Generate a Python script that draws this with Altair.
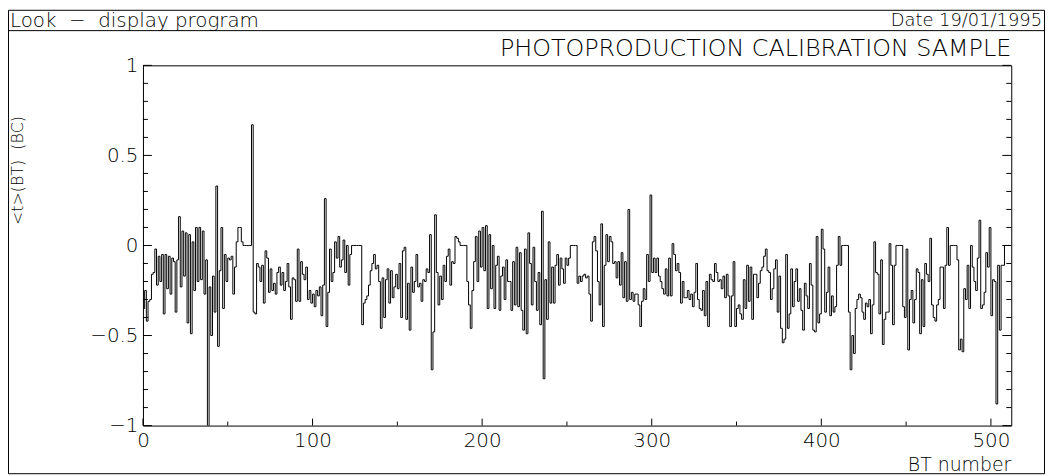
import altair as alt
import pandas as pd

# <t>(BT) per BT bin, bins 0..511
seg_000 = [-0.35, -0.25, -0.42, -0.31, -0.30, -0.16, -0.15, -0.02, -0.22, -0.06,
           -0.20, -0.05, -0.38, -0.05, -0.24, -0.06, -0.27, -0.07, -0.09, -0.37,
           -0.08, 0.16, -0.23, 0.08, -0.17, 0.07, -0.43, 0.06, -0.49, 0.02,
           -0.25, 0.10, -0.20, 0.10, -0.19, 0.08, -0.27, -0.08, -1.00, -0.23,
           -0.50, -0.17, -0.37, 0.33, -0.56]
seg_045 = [-0.14, 0.10, -0.35, -0.05, -0.20, -0.07, -0.08, -0.06, -0.27, -0.12,
           0.02, 0.10, 0.10, 0.02, 0.00, 0.00, 0.00, 0.00, 0.00, 0.67,
           -0.37, -0.38, -0.10, -0.12, -0.20, -0.11, -0.32, -0.03, -0.07, -0.26,
           -0.13, -0.25, -0.21, -0.27, -0.15, -0.12, -0.22]
seg_082 = [-0.15, -0.25, -0.20, -0.10, -0.23, -0.41, -0.18, -0.19, -0.31, -0.02,
           -0.31, -0.09, -0.16, -0.19, -0.12, -0.30, -0.25, -0.32, -0.27, -0.34,
           -0.25, -0.28, -0.23, -0.39, -0.22, 0.26, -0.45, -0.26, -0.02, -0.20,
           -0.15, 0.02, -0.07, 0.05, -0.12, -0.08, 0.03, -0.15, 0.00, -0.22,
           -0.05, 0.00, 0.00, 0.00, 0.00, 0.00, 0.00]
seg_129 = [-0.44, -0.32, -0.30, -0.28, -0.22, -0.14, -0.10, -0.05, -0.13, -0.11,
           -0.20, -0.46, -0.18, -0.40, -0.19, -0.13, -0.32, -0.14, -0.29, -0.23,
           -0.16, -0.24, -0.10, -0.40, -0.03, -0.01, -0.41, -0.21, -0.47, -0.12,
           -0.26, -0.20, -0.05, -0.23, -0.21, -0.31, -0.19, -0.20, -0.13, -0.15,
           0.06, -0.69, -0.48]
seg_172 = [0.17, -0.15, -0.33, -0.17, -0.30, -0.11, -0.20, -0.06, -0.02, -0.22,
           -0.09, -0.10, 0.05, 0.04, 0.02, 0.00, 0.00, 0.00, 0.00, -0.20,
           -0.33, -0.46, -0.25, -0.09, 0.05, -0.20, 0.08, -0.12, 0.10, -0.14,
           0.11, -0.35, 0.06, -0.24, 0.00, -0.35, -0.11, -0.06, -0.36, -0.17,
           -0.12, -0.30, -0.08, -0.20]
seg_216 = [-0.20, -0.36, -0.09, -0.33, -0.01, -0.34, -0.04, -0.36, -0.47, -0.02,
           -0.49, 0.07, -0.10, -0.33, -0.01, -0.20, -0.36, -0.15, -0.44, 0.19,
           -0.74, -0.19, -0.41, 0.02, -0.32, -0.12, -0.32, -0.11, -0.05, -0.22,
           -0.07, -0.13, -0.21, -0.07, -0.11, -0.07, 0.00, 0.00, 0.00, 0.00,
           -0.21, -0.17, -0.20]
seg_259 = [-0.17, -0.16, -0.18, -0.17, -0.27, -0.42, 0.02, 0.05, -0.03, -0.20,
           -0.33, 0.12, -0.45, -0.11, 0.06, -0.09, 0.05, 0.02, -0.10, -0.09,
           -0.18, -0.09, -0.22, -0.04, -0.29, -0.09, -0.31, 0.20, -0.30, -0.26,
           -0.31, -0.27, -0.27, -0.33, -0.45, -0.31, -0.24, -0.30, -0.05, -0.20,
           0.28, -0.15]
seg_301 = [-0.07, -0.15, -0.07, -0.17, -0.20, -0.24, -0.27, -0.13, -0.28, -0.07,
           -0.28, 0.01, -0.05, -0.14, -0.10, -0.15, -0.32, -0.20, -0.29, -0.29,
           -0.25, -0.30, -0.27, -0.34, -0.26, -0.10, -0.30, -0.35, -0.36, -0.25,
           -0.39, -0.20, -0.45, -0.16, -0.19, -0.20, -0.10, -0.15, -0.20, -0.19,
           -0.24, -0.17, -0.29]
seg_344 = [-0.16, -0.28, -0.45, -0.28, -0.09, -0.45, -0.35, -0.33, -0.38, -0.41,
           -0.19, -0.35, -0.11, -0.31, -0.12, -0.41, -0.16, -0.16, -0.29, -0.21,
           -0.14, -0.12, -0.06, -0.02, -0.14, -0.15, -0.30, -0.24, -0.13, -0.08,
           -0.37, -0.17, -0.46, -0.54, -0.52, -0.05, -0.46, -0.38, -0.13, -0.34]
seg_384 = [-0.20, -0.13, -0.31, -0.24, -0.36, -0.47, -0.21, -0.28, -0.35, -0.10,
           -0.22, -0.47, -0.48, 0.05, -0.43, -0.38, 0.09, -0.02, -0.37, -0.26,
           -0.12, -0.39, -0.28, -0.37, -0.34, -0.11, 0.05, -0.11, 0.00, 0.00,
           0.00, 0.00, -0.37, -0.69, -0.50, -0.60, -0.35, -0.30, -0.27, -0.29,
           -0.37, -0.41, -0.32, -0.34, -0.30]
seg_429 = [-0.49, -0.33, 0.02, -0.15, -0.16, -0.38, -0.08, -0.55, -0.41, -0.37,
           -0.37, 0.01, -0.11, -0.44, -0.11, 0.00, 0.00, 0.00, 0.00, -0.34,
           -0.40, -0.02, -0.58, -0.30, -0.25, -0.43, -0.30, -0.13, -0.15, -0.49,
           -0.19, -0.45, -0.10, -0.16, -0.20, 0.04, -0.33, -0.40, -0.42, -0.33,
           -0.30, -0.12, -0.12]
seg_472 = [-0.35, -0.11, 0.10, -0.11, 0.00, 0.00, 0.00, 0.00, -0.08, -0.58,
           -0.52, -0.59, -0.24, -0.30, -0.11, -0.35, 0.00, -0.12, -0.20, -0.25,
           -0.07, 0.14, -0.35, -0.33, -0.26, -0.04, -0.12, 0.10, -0.39, -0.19,
           -0.20, -0.88, -0.11, -0.47, -0.11, -0.11, 0.00, 0.00, 0.00, 0.00]

x_major = [0, 100, 200, 300, 400, 500]
x_minor = [50, 150, 250, 350, 450]
y_major = [-1, -0.5, 0, 0.5, 1]
y_minor = [-0.9, -0.8, -0.7, -0.6, -0.4, -0.3, -0.2, -0.1,
           0.1, 0.2, 0.3, 0.4, 0.6, 0.7, 0.8, 0.9]

header_left = "Look \u00a0\u2212\u00a0 display program"
header_right = "Date 19/01/1995"
title_text = "PHOTOPRODUCTION CALIBRATION SAMPLE"
x_title = "BT number"
y_title = "<t>(BT) \u00a0(BC)"

values = (seg_000 + seg_045 + seg_082 + seg_129 + seg_172 + seg_216 + seg_259
          + seg_301 + seg_344 + seg_384 + seg_429 + seg_472)
nbins = len(values)
hist = pd.DataFrame({"edge": list(range(nbins + 1)), "v": values + [values[-1]]})

W, H = 875, 363
PAD_L, PAD_T, PAD_R, PAD_B = 136, 56, 34, 49
FONT = "DejaVu Sans"
WEIGHT = 200

xs = alt.Scale(domain=[0, 512], nice=False, zero=False)
ys = alt.Scale(domain=[-1, 1], nice=False, zero=False)

X_AX = alt.Axis(values=x_major, tickSize=0, domain=False, grid=False, labelPadding=5,
                labelFontSize=20, labelFont=FONT, labelFontWeight=WEIGHT,
                labelColor="black", title=None, labelFlush=False, labelOverlap=False)
Y_AX = alt.Axis(values=y_major, tickSize=0, domain=False, grid=False, labelPadding=5,
                labelFontSize=20, labelFont=FONT, labelFontWeight=WEIGHT,
                labelColor="black", title=None, format="~g",
                labelFlush=False, labelOverlap=False)

line = alt.Chart(hist).mark_line(
    interpolate="step-after", color="black", strokeWidth=1, clip=True
).encode(
    x=alt.X("edge:Q", scale=xs, axis=X_AX),
    y=alt.Y("v:Q", scale=ys, axis=Y_AX),
)

def yticks(vals, length):
    d = pd.DataFrame({"t": vals})
    left = alt.Chart(d).mark_rule(color="black", strokeWidth=1).encode(
        y=alt.Y("t:Q", scale=ys, axis=Y_AX), x=alt.value(0), x2=alt.value(length))
    right = alt.Chart(d).mark_rule(color="black", strokeWidth=1).encode(
        y=alt.Y("t:Q", scale=ys, axis=Y_AX), x=alt.value(W), x2=alt.value(W - length))
    return [left, right]

def xticks(vals, length):
    d = pd.DataFrame({"t": vals})
    return [alt.Chart(d).mark_rule(color="black", strokeWidth=1).encode(
        x=alt.X("t:Q", scale=xs, axis=X_AX), y=alt.value(H), y2=alt.value(H - length))]

def text(s, x, y, size, align, angle=0):
    return alt.Chart(pd.DataFrame({"s": [s]})).mark_text(
        font=FONT, fontSize=size, fontWeight=WEIGHT, align=align, baseline="middle",
        angle=angle, color="black").encode(x=alt.value(x), y=alt.value(y), text="s:N")

frame = alt.Chart(pd.DataFrame({"s": [1]})).mark_rect(
    fill=None, stroke="black", strokeWidth=1).encode(
    x=alt.value(-PAD_L + 0.5), x2=alt.value(W + PAD_R - 0.5),
    y=alt.value(-PAD_T + 0.5), y2=alt.value(H + PAD_B - 0.5))
header_line = alt.Chart(pd.DataFrame({"s": [1]})).mark_rule(
    color="black", strokeWidth=1).encode(
    x=alt.value(-PAD_L), x2=alt.value(W + PAD_R), y=alt.value(-35))

layers = ([frame, header_line, line]
          + yticks(y_major, 9) + yticks(y_minor, 5)
          + xticks(x_major, 7) + xticks(x_minor, 4)
          + [text(header_left, -PAD_L + 2, -45, 20, "left"),
             text(header_right, W + PAD_R - 3, -45, 18, "right"),
             text(title_text, W, -16, 24, "right"),
             text(x_title, W, H + 40, 19, "right"),
             text(y_title, -126, 106, 16, "center", 270)])

chart = alt.layer(*layers).properties(
    width=W, height=H,
    padding={"left": PAD_L, "top": PAD_T, "right": PAD_R, "bottom": PAD_B},
    autosize=alt.AutoSizeParams(type="none"),
    background="white",
).configure_view(stroke="black", strokeWidth=1)

chart.save("out.html", embed_options={"renderer": "svg", "actions": False})
